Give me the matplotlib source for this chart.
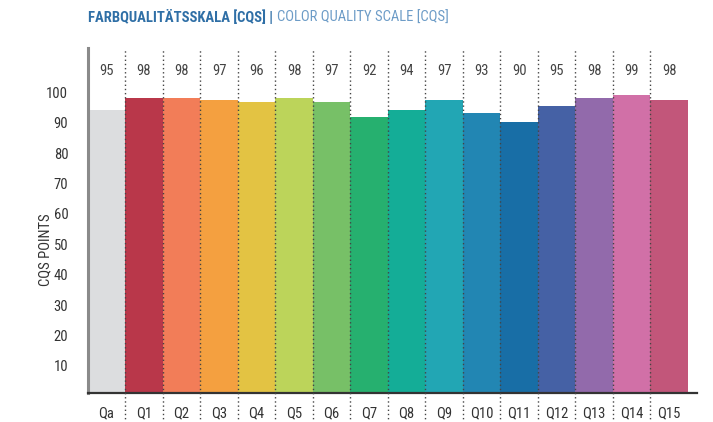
import matplotlib
matplotlib.use("Agg")
import matplotlib.pyplot as plt
from matplotlib import font_manager

categories = ["Qa", "Q1", "Q2", "Q3", "Q4", "Q5", "Q6", "Q7", "Q8", "Q9",
              "Q10", "Q11", "Q12", "Q13", "Q14", "Q15"]
score_labels = [95, 98, 98, 97, 96, 98, 97, 92, 94, 97, 93, 90, 95, 98, 99, 98]
bar_heights = [94.2, 98.2, 98.2, 97.5, 96.8, 98.2, 96.8, 91.9, 94.2, 97.5,
               93.2, 90.3, 95.6, 98.2, 99.2, 97.5]
colors = ["#dcdddf", "#b9374a", "#f27d58", "#f4a040", "#e3c343", "#bcd45a",
          "#77c067", "#26b06f", "#14ad97", "#22a6b4", "#2286b3", "#186ea6",
          "#4561a5", "#926aab", "#d170a7", "#c2567a"]
y_ticks = [10, 20, 30, 40, 50, 60, 70, 80, 90, 100]

names = {f.name for f in font_manager.fontManager.ttflist}
family = "DejaVu Sans"
for cand in ["Liberation Sans Narrow", "Roboto Condensed", "Open Sans Condensed", "Roboto"]:
    if cand in names:
        family = cand
        break
plt.rcParams["font.family"] = [family, "DejaVu Sans"]

W, H = 713, 422
fig = plt.figure(figsize=(W / 100, H / 100), dpi=100)
ax_left, ax_right = 87.7 / W, 697 / W
ax_bottom, ax_top = (H - 393.3) / H, (H - 48) / H
ax = fig.add_axes([ax_left, ax_bottom, ax_right - ax_left, ax_top - ax_bottom])

x = list(range(len(categories)))
ax.bar(x, bar_heights, width=1.0, color=colors, linewidth=0)
ax.set_xlim(-0.5, 15.74)
ax.set_ylim(1.0, 114.6)

# dotted separators
for i in range(1, len(categories)):
    ax.plot([i - 0.5, i - 0.5], [-12, 114.6], color="#444444", lw=1.0,
            linestyle=(0, (1, 2)), clip_on=False, zorder=3)

for xi, s in zip(x, score_labels):
    ax.text(xi, 107.1, str(s), ha="center", va="center", fontsize=10.5, color="#444444")
for xi, c in zip(x, categories):
    ax.text(xi, -5.6, c, ha="center", va="center", fontsize=10.5, color="#333333",
            clip_on=False)

ax.set_xticks([])
ax.set_yticks(y_ticks)
ax.set_yticklabels([str(t) for t in y_ticks], fontsize=10.5, color="#333333")
ax.tick_params(axis="y", length=0, pad=14)
for s in ["top", "right"]:
    ax.spines[s].set_visible(False)
ax.spines["left"].set_color("#8a8a8a")
ax.spines["left"].set_linewidth(2.2)
ax.spines["bottom"].set_color("#333333")
ax.spines["bottom"].set_linewidth(1.6)

fig.text(45 / W, 1 - 250 / H, "CQS POINTS", rotation=90, ha="center", va="center",
         fontsize=10.5, color="#333333")

t1 = fig.text(88 / W, 1 - 17.5 / H, "FARBQUALITÄTSSKALA [CQS] |", ha="left", va="center",
              fontsize=10.5, fontweight="bold", color="#2f6fa6")
fig.canvas.draw()
bb = t1.get_window_extent()
fig.text((bb.x1 + 4) / W, 1 - 17.5 / H, "COLOR QUALITY SCALE [CQS]", ha="left",
         va="center", fontsize=10.5, color="#6d9cc7")

fig.savefig("out.png", dpi=100)
